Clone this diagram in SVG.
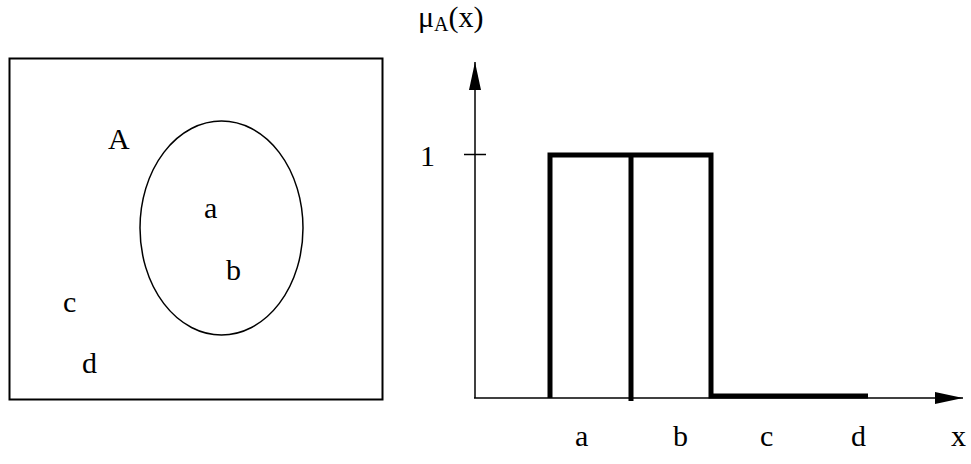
<svg xmlns="http://www.w3.org/2000/svg" width="971" height="464" viewBox="0 0 971 464">
<style>
text{font-family:"Liberation Serif","Times New Roman",serif;font-size:30px;fill:#000}
.thin{fill:none;stroke:#000;stroke-width:1.5}
.thick{fill:none;stroke:#000;stroke-width:5;stroke-linejoin:miter}
</style>
<defs>
<marker id="arr" markerWidth="28" markerHeight="12" refX="28" refY="6" orient="auto" markerUnits="userSpaceOnUse">
<path d="M0,0 L28,6 L0,12 Z" fill="#000"/>
</marker>
</defs>
<rect width="971" height="464" fill="#fff"/>
<g id="venn">
<rect x="9.5" y="58.5" width="373" height="341" fill="none" stroke="#000" stroke-width="2"/>
<ellipse cx="221.5" cy="228" rx="81.5" ry="107" class="thin"/>
<text x="108" y="149">A</text>
<text x="204" y="218">a</text>
<text x="226" y="280">b</text>
<text x="63" y="312">c</text>
<text x="82" y="373">d</text>
</g>
<g id="connectors">
<line x1="475" y1="398" x2="475" y2="62" class="thin" marker-end="url(#arr)"/>
<line x1="474" y1="398" x2="963" y2="398" class="thin" marker-end="url(#arr)"/>
<line x1="464" y1="154.5" x2="486" y2="154.5" class="thin"/>
<path d="M550,398 V155 H711 V396 H868" class="thick"/>
<line x1="631" y1="155" x2="631" y2="401" class="thick"/>
</g>
<g id="labels">
<text x="418" y="27">μ<tspan font-size="20" dy="4">A</tspan><tspan dy="-4">(x)</tspan></text>
<text x="420" y="166">1</text>
<text x="575" y="446">a</text>
<text x="673" y="446">b</text>
<text x="760" y="446">c</text>
<text x="851" y="446">d</text>
<text x="951" y="446">x</text>
</g>
</svg>
